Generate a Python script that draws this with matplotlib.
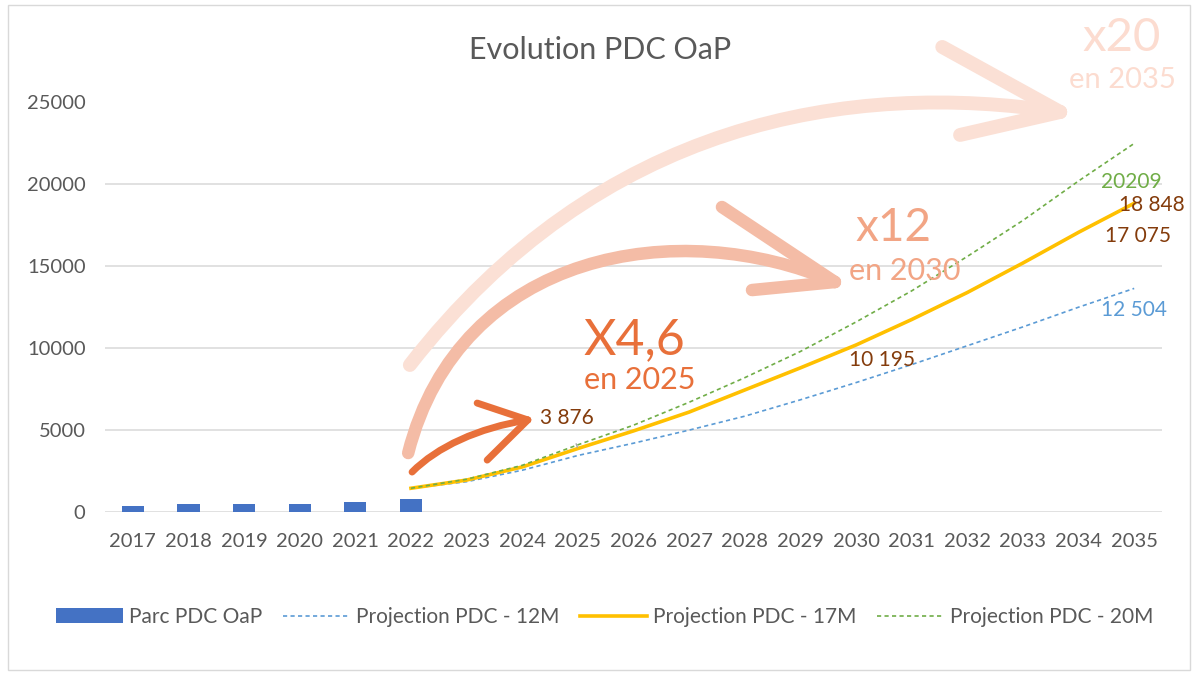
import matplotlib
matplotlib.use("Agg")
import matplotlib.pyplot as plt
from matplotlib import font_manager
from matplotlib.lines import Line2D
from matplotlib.patches import PathPatch, Rectangle
from matplotlib.path import Path

# --- data ---
years = list(range(2017, 2036))
parc_years = years[:6]
parc_values = [380, 480, 480, 480, 590, 800]

proj_years = years[5:]
proj_12m = [1450, 1850, 2550, 3450, 4200, 5000, 5850, 6850, 7900, 9000, 10150, 11300, 12504, 13650]
proj_17m = [1450, 1950, 2750, 3876, 4950, 6100, 7450, 8800, 10195, 11750, 13400, 15200, 17075, 18848]
proj_20m = [1450, 2000, 2850, 4100, 5300, 6700, 8200, 9800, 11600, 13500, 15600, 17800, 20209, 22500]

legend_labels = ["Parc PDC OaP", "Projection PDC - 12M", "Projection PDC - 17M", "Projection PDC - 20M"]

BLUE = "#4472C4"
LBLUE = "#5B9BD5"
YELLOW = "#FFC000"
GREEN = "#70AD47"
BROWN = "#843C0C"
GREY = "#595959"


def has_font(name):
    try:
        font_manager.findfont(name, fallback_to_default=False)
        return True
    except Exception:
        return False


BASE = "Lato"
NARROW = "Liberation Sans Narrow" if has_font("Liberation Sans Narrow") else BASE
plt.rcParams["font.family"] = [BASE, "DejaVu Sans"]


def fmt(v):
    return f"{v:,}".replace(",", " ")


def draw_arrow(ax, curve, arms, color, lw, z):
    # curved shaft (cubic bezier) plus an open chevron head
    path = Path(curve, [Path.MOVETO, Path.CURVE4, Path.CURVE4, Path.CURVE4])
    ax.add_patch(PathPatch(path, fill=False, edgecolor=color, lw=lw,
                           capstyle="round", clip_on=False, zorder=z))
    tip = curve[-1]
    for arm in arms:
        ax.add_line(Line2D([arm[0], tip[0]], [arm[1], tip[1]], color=color, lw=lw,
                           solid_capstyle="round", clip_on=False, zorder=z))


fig = plt.figure(figsize=(11.94, 6.73), dpi=100)
fig.patches.append(Rectangle((8 / 1194, 3 / 673), 1182 / 1194, 665 / 673,
                             transform=fig.transFigure, fill=False,
                             edgecolor="#D9D9D9", lw=1))

ax = fig.add_axes([105 / 1194, 1 - 512 / 673, 1057 / 1194, 409.5 / 673])
ax.set_xlim(2016.5, 2035.5)
ax.set_ylim(0, 25000)

ax.bar(parc_years, parc_values, width=0.4, color=BLUE, zorder=3, label=legend_labels[0])
ax.plot(proj_years, proj_12m, color=LBLUE, lw=1.2, ls=(0, (2.5, 2)), zorder=4, label=legend_labels[1])
ax.plot(proj_years, proj_17m, color=YELLOW, lw=2.6, zorder=4, label=legend_labels[2])
ax.plot(proj_years, proj_20m, color=GREEN, lw=1.2, ls=(0, (2.5, 2)), zorder=5, label=legend_labels[3])

ax.set_xticks(years)
ax.set_xticklabels([str(y) for y in years])
ax.set_yticks(range(0, 25001, 5000))
ax.grid(axis="y", color="#D9D9D9", lw=1.1, zorder=0)
ax.set_axisbelow(True)
for s in ax.spines.values():
    s.set_visible(False)
ax.tick_params(axis="both", length=0, labelsize=14.5, labelcolor=GREY)
ax.tick_params(axis="x", pad=15)
ax.tick_params(axis="y", pad=14)

# data labels
i25 = proj_years.index(2025)
i30 = proj_years.index(2030)
i34 = proj_years.index(2034)
lab = dict(textcoords="offset points", ha="center", va="center", fontsize=15, zorder=6)
ax.annotate(fmt(proj_17m[i25]), (2025, proj_17m[i25]), xytext=(-8, 22), color=BROWN,
            arrowprops=dict(arrowstyle="-", color="#A6A6A6", lw=1, shrinkA=10, shrinkB=1), **lab)
ax.annotate(fmt(proj_17m[i30]), (2030, proj_17m[i30]), xytext=(19, -11), color=BROWN, **lab)
ax.annotate(fmt(proj_17m[i34]), (2034, proj_17m[i34]), xytext=(43, -3), color=BROWN, **lab)
ax.annotate(fmt(proj_17m[-1]), (2035, proj_17m[-1]), xytext=(13, -1), color=BROWN,
            annotation_clip=False, **lab)
ax.annotate(str(proj_20m[i34]), (2034, proj_20m[i34]), xytext=(38, -1), color=GREEN, **lab)
ax.annotate(fmt(proj_12m[i34]), (2034, proj_12m[i34]), xytext=(40, -2), color=LBLUE, **lab)

# growth arrows and captions
draw_arrow(ax, [(2021.98, 8975), (2025.40, 23930), (2029.89, 26370), (2033.67, 24420)],
           [(2031.55, 28390), (2031.87, 23020)], "#FBE0D5", 10, 1.2)
draw_arrow(ax, [(2021.95, 3600), (2022.88, 16000), (2026.84, 18130), (2029.62, 14040)],
           [(2027.59, 18620), (2028.13, 13550)], "#F4BCA6", 9, 1.4)
draw_arrow(ax, [(2022.02, 2440), (2022.47, 3970), (2023.20, 5130), (2024.10, 5620)],
           [(2023.19, 6650), (2023.37, 3170)], "#E8703A", 5, 1.6)

ax.text(2026.01, 10500, "X4,6", fontsize=36, color="#E8703A", ha="center", va="center", zorder=6)
ax.text(2026.12, 8060, "en 2025", fontsize=22, color="#E8703A", ha="center", va="center", zorder=6)
ax.text(2030.67, 17340, "x12", fontsize=33, color="#F2A585", ha="center", va="center", zorder=6)
ax.text(2030.88, 14710, "en 2030", fontsize=22, color="#F2A585", ha="center", va="center", zorder=6)
ax.text(2034.78, 28940, "x20", fontsize=34, color="#FCDCD0", ha="center", va="center",
        family=[NARROW, "DejaVu Sans"], clip_on=False, zorder=6)
ax.text(2034.78, 26370, "en 2035", fontsize=21, color="#FCDCD0", ha="center", va="center",
        family=[NARROW, "DejaVu Sans"], clip_on=False, zorder=6)

fig.text(600 / 1194, 1 - 50 / 673, "Evolution PDC OaP", fontsize=22, color=GREY,
         ha="center", va="center")

handles, labels = ax.get_legend_handles_labels()
order = [labels.index(l) for l in legend_labels]
fig.legend([handles[i] for i in order], legend_labels, loc="center", ncol=4,
           bbox_to_anchor=(605 / 1194, 1 - 617 / 673), frameon=False, fontsize=15,
           labelcolor=GREY, handlelength=3.2, handletextpad=0.3, columnspacing=1.0)

fig.savefig("out.png", dpi=100)
